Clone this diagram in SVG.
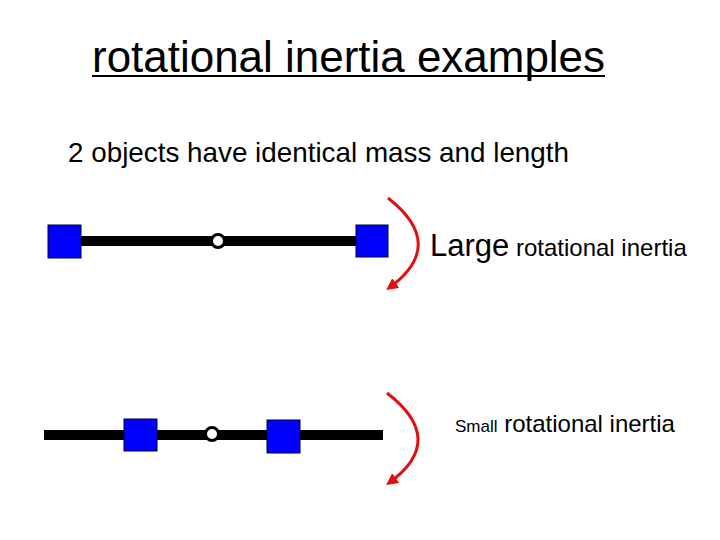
<svg xmlns="http://www.w3.org/2000/svg" width="720" height="540" viewBox="0 0 720 540">
<style>
text{font-family:"Liberation Sans",Arial,sans-serif;fill:#000}
.bar{stroke:#000;stroke-width:10}
.mass{fill:#0000ff;stroke:#000033;stroke-width:1}
.pivot{fill:#fff;stroke:#000;stroke-width:3}
.rot{fill:none;stroke:#e01010;stroke-width:3;marker-end:url(#ah)}
</style>
<defs>
<marker id="ah" viewBox="0 0 10 10" refX="7" refY="5" markerWidth="4" markerHeight="4" orient="auto" markerUnits="strokeWidth">
<path d="M0,0 L10,5 L0,10 Z" fill="#e01010"/>
</marker>
</defs>
<rect width="720" height="540" fill="#fff"/>
<g id="title">
<text x="92" y="72" font-size="44" textLength="513" lengthAdjust="spacingAndGlyphs">rotational inertia examples</text>
<line x1="92" y1="76" x2="605" y2="76" stroke="#000" stroke-width="2"/>
</g>
<text id="subtitle" x="68" y="162" font-size="28" textLength="501" lengthAdjust="spacingAndGlyphs">2 objects have identical mass and length</text>
<g id="connectors">
<line class="bar" x1="81" y1="241" x2="356" y2="241"/>
<line class="bar" x1="44" y1="435" x2="383" y2="435"/>
<path class="rot" d="M388,198 Q448,245 389,288"/>
<path class="rot" d="M387,393 Q448,440 389,483"/>
</g>
<g id="top-left-mass"><rect class="mass" x="48" y="225" width="33" height="33"/></g>
<g id="top-right-mass"><rect class="mass" x="356" y="225" width="32" height="32"/></g>
<g id="top-pivot"><circle class="pivot" cx="218" cy="241" r="6.5"/></g>
<g id="bottom-left-mass"><rect class="mass" x="124" y="419" width="33" height="32"/></g>
<g id="bottom-right-mass"><rect class="mass" x="267" y="420" width="33" height="33"/></g>
<g id="bottom-pivot"><circle class="pivot" cx="212" cy="434" r="6.5"/></g>
<g id="label-large">
<text x="430" y="256"><tspan font-size="31">Large</tspan><tspan font-size="24"> rotational inertia</tspan></text>
</g>
<g id="label-small">
<text x="455" y="432"><tspan font-size="17">Small</tspan><tspan font-size="24"> rotational inertia</tspan></text>
</g>
</svg>
